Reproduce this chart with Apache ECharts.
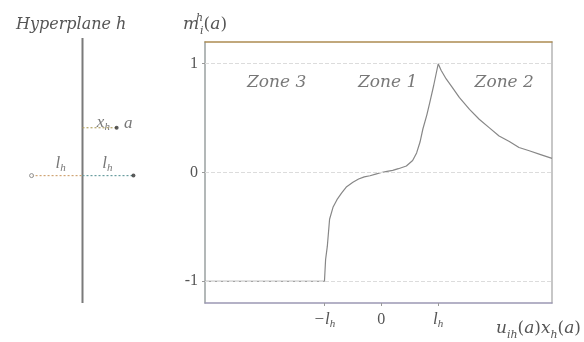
<!DOCTYPE html>
<html>
<head>
<meta charset="utf-8">
<script src="https://cdn.jsdelivr.net/npm/echarts@6/dist/echarts.min.js"></script>
<style>
  html, body { margin: 0; padding: 0; background: #fff; }
  #chart { width: 584px; height: 342px; }
</style>
</head>
<body>
<div id="chart"></div>
<script>
// response curve m_i^h(a) against u_ih(a) x_h(a), x in units of l_h
const curveX = [-3.1, -1, -0.98, -0.95, -0.91, -0.85, -0.78, -0.7, -0.61, -0.5, -0.4, -0.3, -0.2, -0.1, 0,
  0.1, 0.2, 0.3, 0.44, 0.55, 0.62, 0.68, 0.73, 0.8, 0.85, 0.92, 1.0,
  1.05, 1.14, 1.25, 1.37, 1.55, 1.72, 1.9, 2.07, 2.25, 2.42, 2.6, 2.8, 3.0]
const curveY = [-1, -1, -0.8, -0.68, -0.43, -0.32, -0.25, -0.19, -0.13, -0.09, -0.06, -0.04, -0.03, -0.015, 0,
  0.01, 0.02, 0.035, 0.06, 0.11, 0.18, 0.28, 0.4, 0.53, 0.64, 0.8, 1.0,
  0.94, 0.86, 0.78, 0.69, 0.58, 0.49, 0.41, 0.335, 0.285, 0.23, 0.2, 0.165, 0.13]

const gridLevels = [1, 0, -1]
const yTickValues = [1, 0, -1]
const yTickLabels = ['1', '0', '-1']
const xTickValues = [-1, 0, 1]
const xTickLabels = ['{i|−l}{s|h}', '{n|0}', '{i|l}{s|h}']

const zoneNames = ['Zone 3', 'Zone 1', 'Zone 2']
const zoneX = [-1.84, 0.11, 2.16]
const zoneY = [0.83, 0.83, 0.83]

// left sketch: hyperplane at x = 0, distances in units of l_h
const hyperplaneY = [-2.5, 2.7]
const leftDist = [[-1, 0], [0, 0]]
const rightDist = [[0, 0], [1, 0]]
const projLine = [[0, 0.94], [0.67, 0.94]]
const filledDots = [[1, 0], [0.67, 0.94]]
const openDots = [[-1, 0]]
const sketchLabels = ['{i|l}{s|h}', '{i|l}{s|h}', '{i|x}{s|h}', '{i|a}']
const sketchLabelPos = [[-0.43, 0.23], [0.49, 0.23], [0.41, 1.05], [0.9, 1.02]]

const serif = 'Liberation Serif'
const wide = 'DejaVu Serif'
const ink = '#555'

const rich = {
  i: { fontFamily: serif, fontStyle: 'italic', fontSize: 17, color: ink, lineHeight: 20 },
  n: { fontFamily: serif, fontSize: 16, color: ink, lineHeight: 20 },
  s: { fontFamily: serif, fontStyle: 'italic', fontSize: 11, color: ink, lineHeight: 11, verticalAlign: 'bottom' },
  I: { fontFamily: wide, fontStyle: 'italic', fontSize: 17, color: ink, lineHeight: 24 },
  N: { fontFamily: wide, fontSize: 17, color: ink, lineHeight: 24 },
  S: { fontFamily: wide, fontStyle: 'italic', fontSize: 11, color: ink, lineHeight: 13, verticalAlign: 'bottom' },
  P: { fontFamily: wide, fontStyle: 'italic', fontSize: 11, color: ink, lineHeight: 13, verticalAlign: 'top', width: 1 }
}

const chart = echarts.init(document.getElementById('chart'))

const option = {
  animation: false,
  title: {
    text: 'Hyperplane h',
    left: 11,
    top: 12,
    textStyle: { fontFamily: wide, fontStyle: 'italic', fontWeight: 'normal', fontSize: 16, color: ink }
  },
  grid: [
    { left: 205, top: 42, width: 348, height: 261, show: false },
    { left: 1, top: 33, width: 163, height: 275, show: false }
  ],
  xAxis: [
    {
      type: 'value', gridIndex: 0, min: -3.1, max: 3.0,
      name: '{I|u}{S|ih}{N|(}{I|a}{N|)}{I|x}{S|h}{N|(}{I|a}{N|)}',
      nameLocation: 'end', nameGap: 29,
      nameTextStyle: { align: 'right', verticalAlign: 'top', padding: [14, 0, 0, 0], rich },
      axisLine: { show: true, onZero: false, lineStyle: { color: '#9c98b4', width: 1.5 } },
      axisTick: { show: true, length: 3, customValues: xTickValues, lineStyle: { color: '#999' } },
      axisLabel: {
        customValues: xTickValues, margin: 7,
        formatter: (v) => xTickLabels[xTickValues.indexOf(v)],
        rich
      },
      splitLine: { show: false }
    },
    {
      type: 'value', gridIndex: 0, min: -3.1, max: 3.0, position: 'top',
      axisLine: { show: true, onZero: false, lineStyle: { color: '#ad8c52', width: 1.5 } },
      axisTick: { show: false }, axisLabel: { show: false }, splitLine: { show: false }
    },
    {
      type: 'value', gridIndex: 1, min: -1.6, max: 1.6, show: false
    }
  ],
  yAxis: [
    {
      type: 'value', gridIndex: 0, min: -1.2, max: 1.2,
      name: '{I|m}{P|h}{S|i}{N|(}{I|a}{N|)}',
      nameLocation: 'end', nameGap: 5,
      nameTextStyle: { rich },
      axisLine: { show: true, onZero: false, lineStyle: { color: '#9aa0a0', width: 1.5 } },
      axisTick: { show: true, length: 3, customValues: yTickValues, lineStyle: { color: '#999' } },
      axisLabel: {
        customValues: yTickValues, margin: 7,
        formatter: (v) => yTickLabels[yTickValues.indexOf(v)],
        fontFamily: serif, fontSize: 16, color: ink
      },
      splitLine: { show: false }
    },
    {
      type: 'value', gridIndex: 0, min: -1.2, max: 1.2, position: 'right',
      axisLine: { show: true, onZero: false, lineStyle: { color: '#b4b4b4', width: 1.5 } },
      axisTick: { show: false }, axisLabel: { show: false }, splitLine: { show: false }
    },
    {
      type: 'value', gridIndex: 1, min: -2.6, max: 2.8, show: false
    }
  ],
  series: [
    {
      name: 'curve', type: 'line', xAxisIndex: 0, yAxisIndex: 0,
      data: curveX.map((x, k) => [x, curveY[k]]),
      showSymbol: false, smooth: false,
      lineStyle: { color: '#878787', width: 1.2 },
      markLine: {
        silent: true, symbol: 'none', label: { show: false },
        lineStyle: { color: '#dcdcdc', type: 'dashed', width: 1 },
        data: gridLevels.map((v) => ({ yAxis: v }))
      },
      z: 3
    },
    {
      name: 'zones', type: 'scatter', xAxisIndex: 0, yAxisIndex: 0,
      symbolSize: 0,
      data: zoneNames.map((n, k) => ({ name: n, value: [zoneX[k], zoneY[k]] })),
      label: {
        show: true, position: 'inside', formatter: '{b}',
        fontFamily: wide, fontStyle: 'italic', fontSize: 17, color: ink
      }
    },
    {
      name: 'hyperplane', type: 'line', xAxisIndex: 2, yAxisIndex: 2,
      data: hyperplaneY.map((y) => [0, y]),
      showSymbol: false, lineStyle: { color: '#7a7a7a', width: 2 }
    },
    {
      name: 'leftDist', type: 'line', xAxisIndex: 2, yAxisIndex: 2,
      data: leftDist, showSymbol: false,
      lineStyle: { color: '#d0a474', width: 1.2, type: [2, 2] }
    },
    {
      name: 'rightDist', type: 'line', xAxisIndex: 2, yAxisIndex: 2,
      data: rightDist, showSymbol: false,
      lineStyle: { color: '#6a9ea0', width: 1.2, type: [2, 2] }
    },
    {
      name: 'projLine', type: 'line', xAxisIndex: 2, yAxisIndex: 2,
      data: projLine, showSymbol: false,
      lineStyle: { color: '#b4a468', width: 1.2, type: [2, 2] }
    },
    {
      name: 'filledDots', type: 'scatter', xAxisIndex: 2, yAxisIndex: 2,
      data: filledDots, symbolSize: 4, itemStyle: { color: '#333' }, z: 4
    },
    {
      name: 'openDots', type: 'scatter', xAxisIndex: 2, yAxisIndex: 2,
      data: openDots, symbolSize: 4,
      itemStyle: { color: '#fff', borderColor: '#777', borderWidth: 1 }, z: 4
    },
    {
      name: 'sketchLabels', type: 'scatter', xAxisIndex: 2, yAxisIndex: 2,
      symbolSize: 0,
      data: sketchLabels.map((t, k) => ({ name: t, value: sketchLabelPos[k] })),
      label: { show: true, position: 'inside', formatter: '{b}', rich }
    }
  ]
}

chart.setOption(option)
</script>
</body>
</html>
